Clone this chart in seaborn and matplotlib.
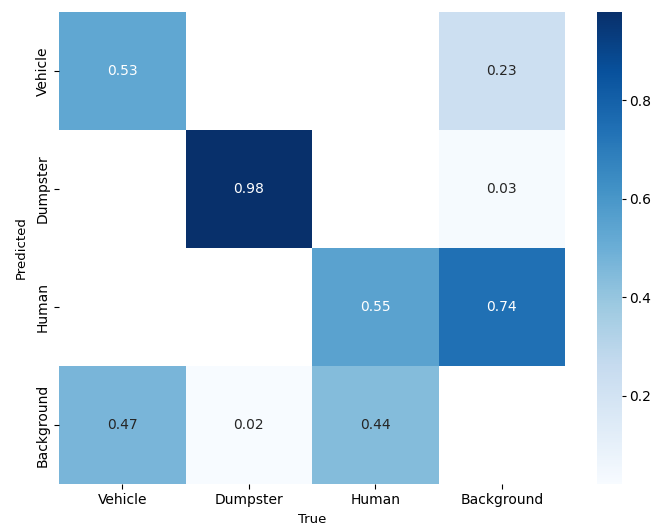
import numpy as np
import pandas as pd
import seaborn as sns
import matplotlib
matplotlib.use('Agg')
import matplotlib.pyplot as plt

classes = ['Vehicle', 'Dumpster', 'Human', 'Background']
# rows = predicted, columns = true
vehicle_row = [0.53, 0.0, 0.0, 0.23]
dumpster_row = [0.0, 0.98, 0.0, 0.03]
human_row = [0.0, 0.0, 0.55, 0.74]
background_row = [0.47, 0.02, 0.44, 0.0]

cm = pd.DataFrame([vehicle_row, dumpster_row, human_row, background_row],
                  index=classes, columns=classes)
cm = cm.where(cm >= 0.005)  # hide empty cells

fig = plt.figure(figsize=(6.52, 5.26), dpi=100)
ax = fig.add_axes([59 / 652, 1 - 484 / 526, 506 / 652, 472 / 526])
cax = fig.add_axes([597 / 652, 1 - 484 / 526, 25 / 652, 472 / 526])

sns.heatmap(cm, ax=ax, cbar_ax=cax, annot=True, fmt='.2f', cmap='Blues',
            annot_kws={'size': 10})
ax.set_xlabel('True', fontsize=9.5, labelpad=4)
ax.set_ylabel('Predicted', fontsize=9.5, labelpad=6)
ax.tick_params(labelsize=10, length=3.5, pad=3)
cax.tick_params(labelsize=10, length=3, pad=2)
plt.setp(ax.get_yticklabels(), rotation=90, va='center')

fig.savefig('out.png', dpi=100)
